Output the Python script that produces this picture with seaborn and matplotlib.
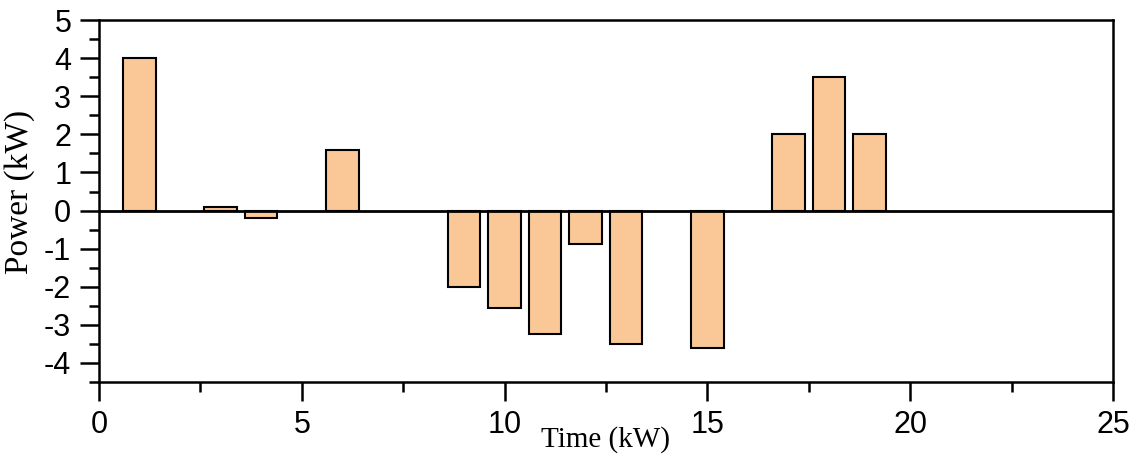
import numpy as np
import pandas as pd
import matplotlib
matplotlib.use("Agg")
import matplotlib.pyplot as plt
from matplotlib.ticker import MultipleLocator
import seaborn as sns

# Hourly power exchange
hours = [1, 3, 4, 6, 9, 10, 11, 12, 13, 15, 17, 18, 19]
power_kw = [4.0, 0.1, -0.2, 1.6, -2.0, -2.55, -3.25, -0.88, -3.5, -3.6, 2.0, 3.5, 2.0]

x_ticks = [0, 5, 10, 15, 20, 25]
y_ticks = [-4, -3, -2, -1, 0, 1, 2, 3, 4, 5]

bar_color = "#FAC896"

sns.set_style("white")
plt.rcParams["axes.unicode_minus"] = False
plt.rcParams["font.family"] = ["Liberation Sans", "DejaVu Sans"]
for key in ["text.color", "axes.labelcolor", "xtick.color", "ytick.color", "axes.edgecolor"]:
    plt.rcParams[key] = "black"

df = pd.DataFrame({"hour": hours, "power": power_kw})

fig = plt.figure(figsize=(11.38, 4.61), dpi=100)
ax = fig.add_axes([0.087, 0.1714, 0.891, 0.785])

sns.barplot(data=df, x="hour", y="power", native_scale=True, width=0.8,
            color=bar_color, saturation=1, edgecolor="black", linewidth=1.5,
            ax=ax, zorder=2)

ax.axhline(0, color="black", linewidth=2, zorder=3)

ax.set_xlim(0, 25)
ax.set_ylim(-4.5, 5)
ax.set_xticks(x_ticks)
ax.set_xticklabels([str(t) for t in x_ticks])
ax.set_yticks(y_ticks)
ax.set_yticklabels([str(t) for t in y_ticks])
ax.xaxis.set_minor_locator(MultipleLocator(2.5))
ax.yaxis.set_minor_locator(MultipleLocator(0.5))

ax.tick_params(axis="both", which="major", direction="out", length=14, width=1.8,
               labelsize=22, pad=6, colors="black",
               top=False, right=False, bottom=True, left=True)
ax.tick_params(axis="both", which="minor", direction="out", length=7, width=1.8,
               colors="black", top=False, right=False, bottom=True, left=True)

for side, spine in ax.spines.items():
    spine.set_visible(True)
    spine.set_color("black")
    spine.set_linewidth(1.8)

ax.set_xlabel("Time (kW)", family=["Liberation Serif", "DejaVu Serif"], fontsize=21,
              color="black", labelpad=-10)
ax.set_ylabel("Power (kW)", family=["Liberation Serif", "DejaVu Serif"], fontsize=24,
              color="black")
ax.yaxis.set_label_coords(-0.063, 0.525)

fig.savefig("out.png", dpi=100)
